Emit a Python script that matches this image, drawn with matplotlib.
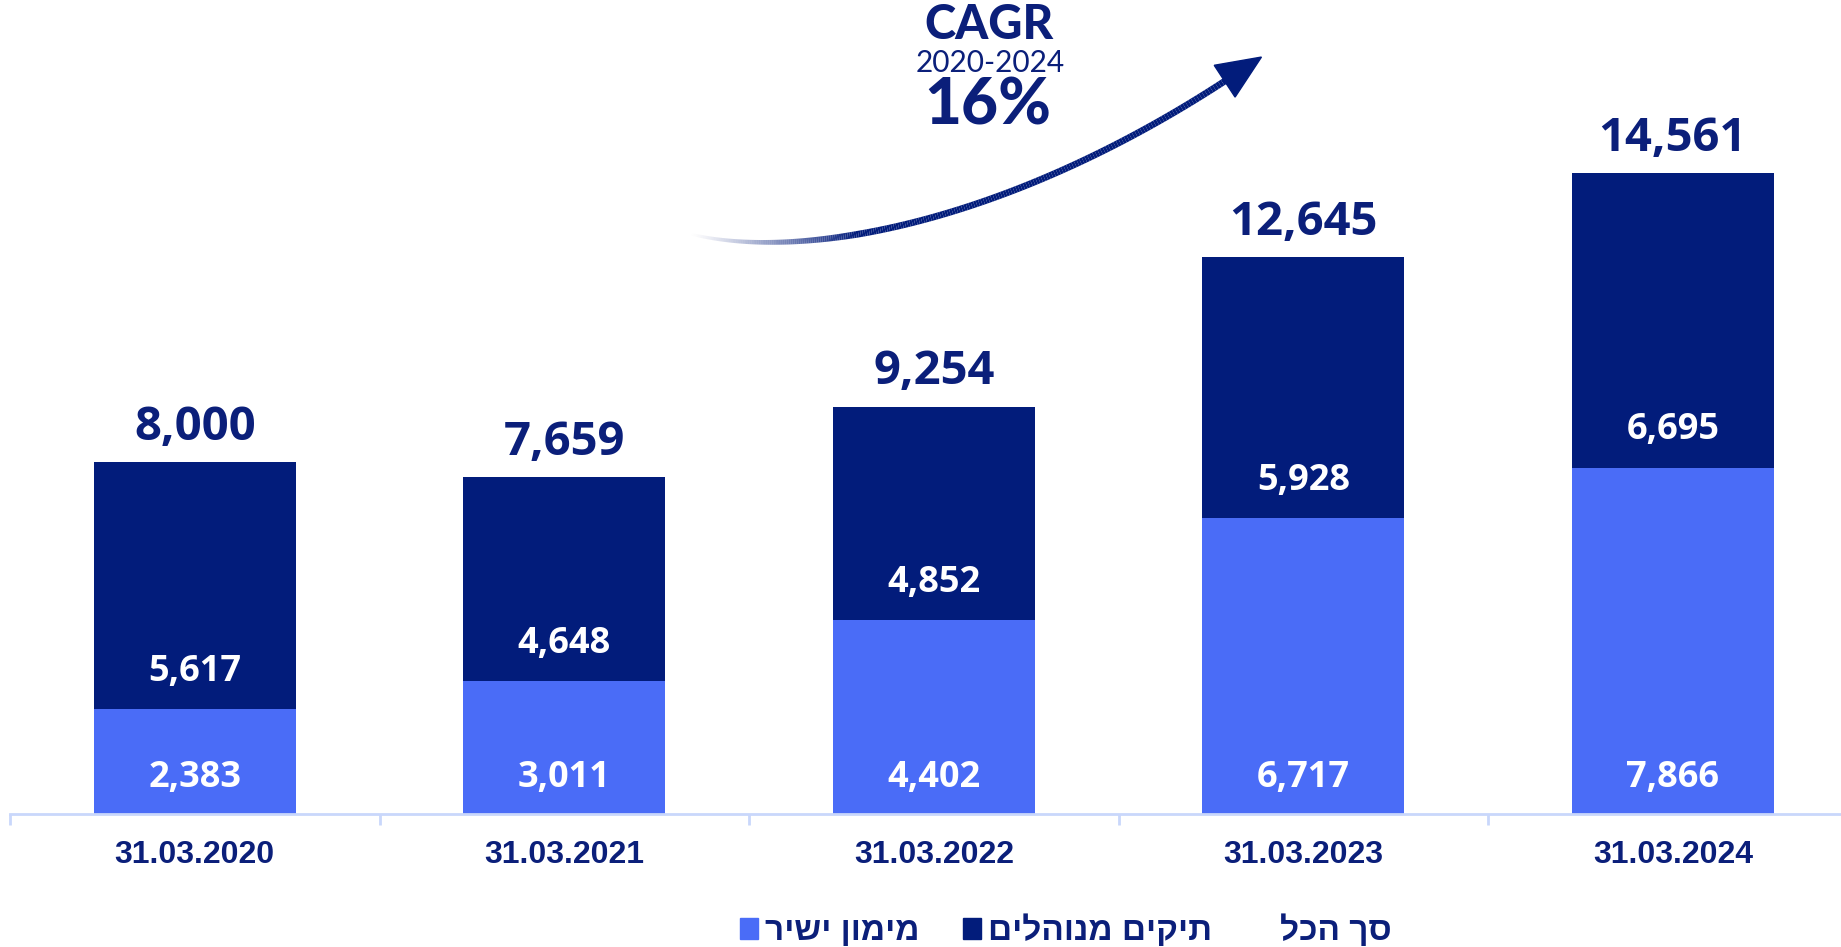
import numpy as np
import matplotlib.pyplot as plt
from matplotlib.patches import Patch, Polygon
from matplotlib.collections import LineCollection

dates = ["31.03.2020", "31.03.2021", "31.03.2022", "31.03.2023", "31.03.2024"]
direct = [2383, 3011, 4402, 6717, 7866]       # מימון ישיר
managed = [5617, 4648, 4852, 5928, 6695]      # תיקים מנוהלים
total = [8000, 7659, 9254, 12645, 14561]      # סך הכל
legend_labels = ["מימון ישיר", "תיקים מנוהלים", "סך הכל"]
cagr_years = "2020-2024"
cagr_value = "16%"

LIGHT = "#4a6cf7"
DARK = "#021c7b"
NAVY = "#0b1f7a"
AXIS = "#c9d7fb"
HEB = ["Liberation Sans", "DejaVu Sans"]


def rtl(s):
    # matplotlib has no bidi support, flip the hebrew for display
    return s[::-1]


W, H = 1841, 947
fig = plt.figure(figsize=(W / 100, H / 100), dpi=100)
ax = fig.add_axes([10 / W, 1 - 814 / H, 1 - 10 / W, 814 / H])

x = np.arange(len(dates))
ax.bar(x, direct, width=0.546, color=LIGHT, zorder=2)
ax.bar(x, managed, bottom=direct, width=0.546, color=DARK, zorder=2)

for i in range(len(dates)):
    ax.annotate(f"{direct[i]:,}", (x[i], 0), xytext=(0, 26), textcoords="offset points",
                ha="center", va="center", color="white", fontsize=26,
                fontweight="bold", family="Open Sans")
    ax.annotate(f"{managed[i]:,}", (x[i], direct[i]), xytext=(0, 27), textcoords="offset points",
                ha="center", va="center", color="white", fontsize=26,
                fontweight="bold", family="Open Sans")
    ax.annotate(f"{total[i]:,}", (x[i], direct[i] + managed[i]), xytext=(0, 25),
                textcoords="offset points", ha="center", va="center", color=NAVY,
                fontsize=34, fontweight="bold", family="Open Sans")

ax.set_xlim(-0.5, 4.455)
ax.set_ylim(0, 18488)
ax.set_yticks([])
for s in ["top", "right", "left"]:
    ax.spines[s].set_visible(False)
ax.spines["bottom"].set_color(AXIS)
ax.spines["bottom"].set_linewidth(2)
ax.set_xticks(x)
ax.set_xticklabels(dates, fontsize=23, fontweight="bold", color=NAVY, family="Liberation Sans")
ax.tick_params(axis="x", which="major", length=0, pad=19)
ax.set_xticks(np.arange(-0.5, 4.0, 1.0), minor=True)
ax.tick_params(axis="x", which="minor", length=8, width=2, color=AXIS)

# CAGR note
fig.text(989 / W, 1 - 25 / H, "CAGR", ha="center", va="center", fontsize=34,
         fontweight="black", color=NAVY, family="Lato")
fig.text(990 / W, 1 - 63 / H, cagr_years, ha="center", va="center", fontsize=21.5,
         color=NAVY, family="Lato")
fig.text(988 / W, 1 - 106 / H, cagr_value, ha="center", va="center", fontsize=46,
         fontweight="black", color=NAVY, family="Lato")

# curved growth arrow, faded tail
P = np.array([[690, 234], [805, 262], [1010, 222], [1228, 79]], float)
t = np.linspace(0, 1, 240)[:, None]
pts = ((1 - t) ** 3 * P[0] + 3 * t * (1 - t) ** 2 * P[1]
       + 3 * t ** 2 * (1 - t) * P[2] + t ** 3 * P[3])
pts_f = np.column_stack([pts[:, 0] / W, 1 - pts[:, 1] / H])
segs = np.stack([pts_f[:-1], pts_f[1:]], axis=1)
tt = t[:-1, 0]
ramp = np.clip(tt / 0.38, 0, 1)
alpha = ramp ** 1.3
lw = 2.0 + 2.8 * ramp
cols = [(2 / 255, 28 / 255, 123 / 255, a) for a in alpha]
lc = LineCollection(segs, colors=cols, linewidths=lw, transform=fig.transFigure,
                    capstyle="butt")
fig.add_artist(lc)
d = P[3] - P[2]
d = d / np.hypot(*d)
n = np.array([-d[1], d[0]])
base = P[3] - d * 4
tip = P[3] + d * 40
head = np.array([tip, base + n * 19, base - n * 19])
head_f = np.column_stack([head[:, 0] / W, 1 - head[:, 1] / H])
fig.add_artist(Polygon(head_f, closed=True, color=DARK, transform=fig.transFigure))

handles = [Patch(color=LIGHT), Patch(color=DARK), Patch(color="none")]
fig.legend(handles, [rtl(s) for s in legend_labels], loc="center",
           bbox_to_anchor=(1066 / W, 1 - 931 / H), ncol=3, frameon=False,
           prop={"family": HEB, "weight": "bold", "size": 24},
           labelcolor=NAVY, handlelength=0.55, handleheight=0.55,
           handletextpad=0.2, columnspacing=1.3, borderpad=0)

fig.savefig("out.png", dpi=100)
